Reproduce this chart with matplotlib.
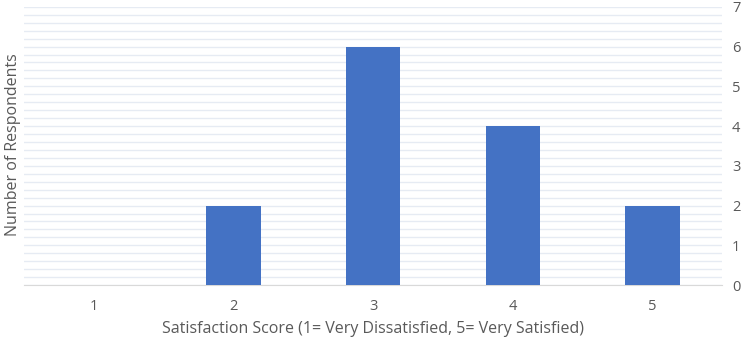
import matplotlib
matplotlib.use("Agg")
import matplotlib.pyplot as plt
from matplotlib.ticker import MultipleLocator

scores = [1, 2, 3, 4, 5]
respondents = [0, 2, 6, 4, 2]
y_ticks = [0, 1, 2, 3, 4, 5, 6, 7]

plt.rcParams["font.family"] = ["Open Sans", "DejaVu Sans"]

fig = plt.figure(figsize=(7.5, 3.43), dpi=100)
ax = fig.add_axes([0.032, 0.169, 0.931, 0.811])

ax.bar(scores, respondents, width=0.39, color="#4472c4", zorder=3)

ax.set_xlim(0.5, 5.5)
ax.set_ylim(0, 7)
ax.set_xticks(scores)
ax.set_yticks(y_ticks)
ax.yaxis.set_minor_locator(MultipleLocator(0.2))
ax.yaxis.tick_right()
ax.grid(axis="y", which="both", color="#e6ebf3", linewidth=1.0, zorder=0)
ax.tick_params(axis="both", which="both", length=0, labelsize=10.5, colors="#595959")
ax.tick_params(axis="x", pad=10)
ax.tick_params(axis="y", pad=7)

for side in ["top", "left", "right"]:
    ax.spines[side].set_visible(False)
ax.spines["bottom"].set_color("#d9d9d9")

ax.set_xlabel("Satisfaction Score (1= Very Dissatisfied, 5= Very Satisfied)",
              fontsize=11.5, color="#595959", labelpad=5)
fig.text(0.017, 0.577, "Number of Respondents", rotation=90, fontsize=11.5,
         color="#595959", ha="center", va="center")

fig.savefig("out.png", dpi=100, facecolor="white")
